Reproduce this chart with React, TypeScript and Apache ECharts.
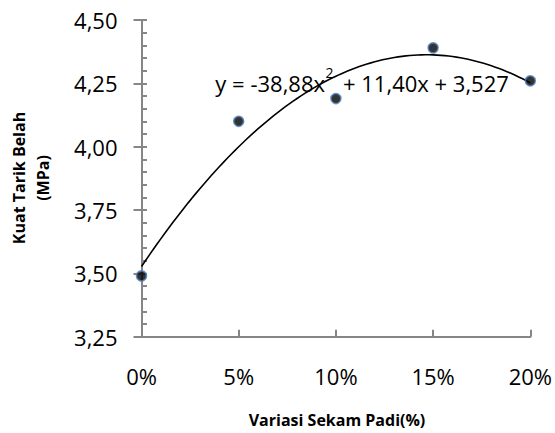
import React, { useEffect, useRef } from "react";
import * as echarts from "echarts";

// Rice-husk variation (fraction) and measured split tensile strength (MPa)
const variasi = [0, 0.05, 0.1, 0.15, 0.2];
const kuatTarik = [3.49, 4.1, 4.19, 4.39, 4.26];

// Polynomial trendline y = a·x² + b·x + c
const trendCoef = [-38.88, 11.4, 3.527];
// Equation label, split around the superscript
const eqHead = "y = -38,88x";
const eqSup = "2";
const eqTail = "+ 11,40x + 3,527";

// Axis ranges: [min, max, interval]
const yRange = [3.25, 4.5, 0.25];
const xRange = [0, 0.2, 0.05];

const FONT = '"Open Sans", "Noto Sans", sans-serif';
const AXIS_GRAY = "#868686";

function trendPoints(): number[][] {
  const [a, b, c] = trendCoef;
  const pts: number[][] = [];
  const steps = 100;
  for (let i = 0; i <= steps; i++) {
    const x = xRange[0] + ((xRange[1] - xRange[0]) * i) / steps;
    pts.push([x, a * x * x + b * x + c]);
  }
  return pts;
}

export default function App() {
  const ref = useRef<HTMLDivElement>(null);

  useEffect(() => {
    if (!ref.current) return;
    const chart = echarts.init(ref.current, undefined, { renderer: "svg" });

    const yBase = {
      type: "value" as const,
      min: yRange[0],
      max: yRange[1],
      interval: yRange[2],
      position: "left" as const,
      splitLine: { show: false },
    };

    const eqText = (text: string, x: number, y: number, align: string, size: number) => ({
      type: "text",
      x,
      y,
      z: 10,
      style: {
        text,
        align,
        verticalAlign: "middle",
        fill: "#000",
        font: `${size}px ${FONT}`,
      },
    });

    chart.setOption({
      animation: false,
      backgroundColor: "#ffffff",
      grid: { left: 141.5, right: 23, top: 20, bottom: 96.3, containLabel: false },
      xAxis: {
        type: "value",
        min: xRange[0],
        max: xRange[1],
        interval: xRange[2],
        axisLine: { show: true, lineStyle: { color: AXIS_GRAY, width: 2 } },
        axisTick: { show: true, inside: true, length: 7, lineStyle: { color: AXIS_GRAY, width: 2 } },
        splitLine: { show: false },
        axisLabel: {
          margin: 28,
          color: "#000",
          fontFamily: FONT,
          fontSize: 22,
          formatter: (v: number) => `${Math.round(v * 100)}%`,
        },
      },
      yAxis: [
        {
          ...yBase,
          axisLine: { show: true, lineStyle: { color: AXIS_GRAY, width: 2 } },
          axisTick: { show: true, inside: true, length: 5.5, lineStyle: { color: AXIS_GRAY, width: 2 } },
          minorTick: { show: true, splitNumber: 5, length: 5.5, lineStyle: { color: AXIS_GRAY, width: 2 } },
          axisLabel: {
            margin: 24,
            color: "#000",
            fontFamily: FONT,
            fontSize: 22,
            formatter: (v: number) => v.toFixed(2).replace(".", ","),
          },
        },
        {
          ...yBase,
          axisLine: { show: false },
          axisTick: { show: true, inside: false, length: 8, lineStyle: { color: AXIS_GRAY, width: 2 } },
          axisLabel: { show: false },
        },
      ],
      series: [
        {
          type: "line",
          data: trendPoints(),
          showSymbol: false,
          smooth: false,
          lineStyle: { color: "#000", width: 1.6 },
          z: 2,
          silent: true,
        },
        {
          type: "scatter",
          data: variasi.map((x, i) => [x, kuatTarik[i]]),
          symbol: "circle",
          symbolSize: 10,
          itemStyle: { color: "#000", borderColor: "#4f81bd", borderWidth: 1.6 },
          z: 3,
        },
      ],
      graphic: [
        eqText(eqHead, 325, 83, "right", 22),
        eqText(eqSup, 325.5, 72, "left", 14),
        eqText(eqTail, 343, 83, "left", 22),
        {
          type: "text",
          x: 31,
          y: 178,
          rotation: Math.PI / 2,
          style: {
            text: "Kuat Tarik Belah\n(MPa)",
            align: "center",
            verticalAlign: "middle",
            fill: "#000",
            font: `bold 16px ${FONT}`,
            lineHeight: 24,
          },
        },
        {
          type: "text",
          x: 337,
          y: 420,
          style: {
            text: "Variasi Sekam Padi(%)",
            align: "center",
            verticalAlign: "middle",
            fill: "#000",
            font: `bold 16px ${FONT}`,
          },
        },
      ],
    });

    return () => chart.dispose();
  }, []);

  return (
    <div
      ref={ref}
      style={{ position: "fixed", left: 0, top: 0, width: 555, height: 433, overflow: "hidden" }}
    />
  );
}
